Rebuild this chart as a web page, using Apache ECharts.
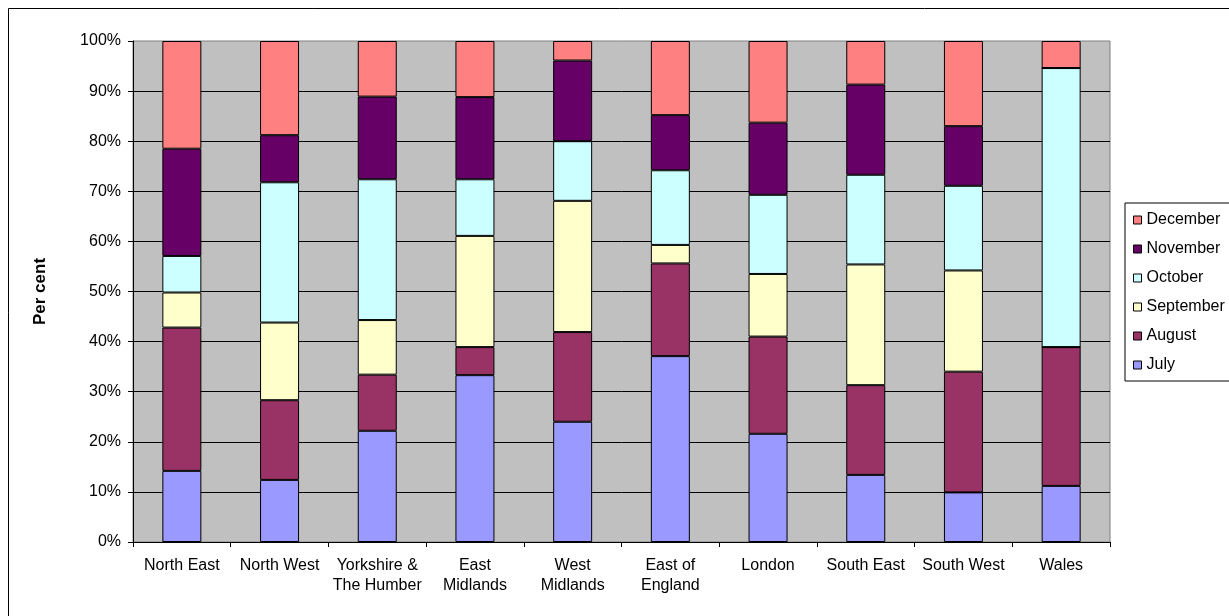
<!DOCTYPE html>
<html>
<head>
<meta charset="utf-8">
<script src="https://cdn.jsdelivr.net/npm/echarts@6/dist/echarts.min.js"></script>
<style>
  html, body { margin: 0; padding: 0; background: #fff; }
  #chart { width: 1229px; height: 616px; }
</style>
</head>
<body>
<div id="chart"></div>
<script>
// Regions along the category axis
const regions = ['North East', 'North West', 'Yorkshire &\nThe Humber', 'East\nMidlands', 'West\nMidlands',
  'East of\nEngland', 'London', 'South East', 'South West', 'Wales'];

// Share of each month per region (per cent, each region sums to 100)
const july      = [14.2, 12.4, 22.2, 33.3, 24.0, 37.1, 21.6, 13.4,  9.9, 11.2];
const august    = [28.6, 15.9, 11.2,  5.6, 17.9, 18.5, 19.4, 17.9, 24.1, 27.7];
const september = [ 7.0, 15.5, 10.9, 22.2, 26.2,  3.7, 12.5, 24.1, 20.2,  0.0];
const october   = [ 7.3, 28.0, 28.1, 11.3, 11.9, 14.9, 15.8, 17.9, 16.9, 55.7];
const november  = [21.4,  9.4, 16.5, 16.4, 16.1, 11.0, 14.4, 18.0, 11.9,  0.0];
const december  = [21.5, 18.8, 11.1, 11.2,  3.9, 14.8, 16.3,  8.7, 17.0,  5.4];

const yTicks = [0, 10, 20, 30, 40, 50, 60, 70, 80, 90, 100];

const months = [
  { name: 'July',      data: july,      color: '#9999FF' },
  { name: 'August',    data: august,    color: '#993366' },
  { name: 'September', data: september, color: '#FFFFCC' },
  { name: 'October',   data: october,   color: '#CCFFFF' },
  { name: 'November',  data: november,  color: '#660066' },
  { name: 'December',  data: december,  color: '#FF8080' }
];

const FONT = '"Liberation Sans", Arial, sans-serif';

const chart = echarts.init(document.getElementById('chart'), null, { renderer: 'canvas' });

chart.setOption({
  animation: false,
  backgroundColor: '#ffffff',
  textStyle: { fontFamily: FONT, color: '#000' },
  graphic: [
    {
      type: 'rect',
      silent: true,
      shape: { x: 8.5, y: 8.5, width: 1300, height: 700 },
      style: { fill: 'none', stroke: '#000', lineWidth: 1 },
      z: -10
    }
  ],
  grid: {
    left: 133, right: 119, top: 41, bottom: 74,
    show: true,
    backgroundColor: '#C0C0C0',
    borderColor: '#808080',
    borderWidth: 1
  },
  legend: {
    orient: 'vertical',
    left: 1125,
    top: 203,
    padding: [9, 30, 8, 8],
    itemGap: 13,
    itemWidth: 8,
    itemHeight: 8,
    icon: 'rect',
    borderColor: '#000',
    borderWidth: 1,
    backgroundColor: '#fff',
    textStyle: { fontFamily: FONT, fontSize: 16, color: '#000', lineHeight: 16 },
    itemStyle: { borderColor: '#000', borderWidth: 1 },
    data: months.map(m => m.name).reverse()
  },
  xAxis: {
    type: 'category',
    data: regions,
    axisLine: { show: true, lineStyle: { color: '#000', width: 1 } },
    axisTick: { show: true, length: 5, lineStyle: { color: '#000' } },
    axisLabel: {
      interval: 0,
      margin: 14,
      fontFamily: FONT,
      fontSize: 16,
      lineHeight: 20,
      color: '#000'
    },
    splitLine: { show: false }
  },
  yAxis: {
    type: 'value',
    min: yTicks[0],
    max: yTicks[yTicks.length - 1],
    interval: 10,
    name: 'Per cent',
    nameLocation: 'middle',
    nameGap: 84,
    nameRotate: 90,
    nameTextStyle: { fontFamily: FONT, fontSize: 17, fontWeight: 'bold', color: '#000' },
    axisLine: { show: true, lineStyle: { color: '#000', width: 1 } },
    axisTick: { show: true, length: 5, lineStyle: { color: '#000' } },
    axisLabel: {
      margin: 12,
      fontFamily: FONT,
      fontSize: 16,
      color: '#000',
      formatter: v => v + '%'
    },
    splitLine: { show: true, showMaxLine: false, lineStyle: { color: '#000', width: 1 } }
  },
  series: months.map(m => ({
    name: m.name,
    type: 'bar',
    stack: 'total',
    barWidth: 39,
    data: m.data,
    itemStyle: { color: m.color, borderColor: '#000', borderWidth: 1 },
    emphasis: { disabled: true }
  }))
});
</script>
</body>
</html>
